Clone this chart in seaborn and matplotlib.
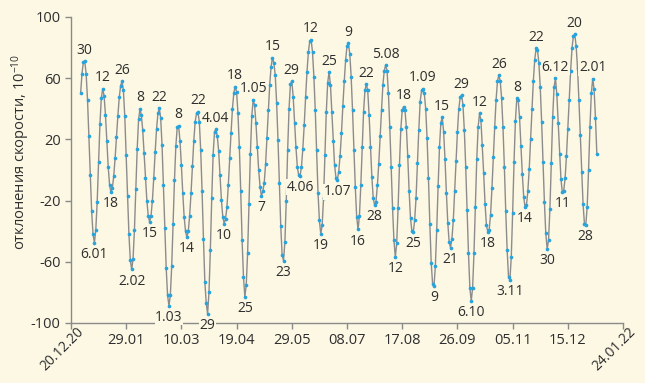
import pandas as pd
import seaborn as sns
import matplotlib.pyplot as plt
from matplotlib.transforms import ScaledTranslation

# daily speed deviations, 10^-10, 27.12.2020 .. 05.01.2022
dec20 = [50, 63, 70.5, 71, 63]
jan21 = [46, 22, -3, -27, -42, -47.5, -39, -21, 5, 30, 47, 53, 48.5, 36, 19, 2,
         -10, -14.6, -11.8, -4, 7.8, 21.7, 35.6, 47.4, 55.2, 58, 52, 35, 10, -17, -42]
feb21 = [-59, -65, -58, -39, -12.5, 14, 33, 40, 36, 26, 11, -5, -20, -30, -34, -30,
         -20, -5, 11.5, 26.5, 37, 40.5, 34, 16, -10, -38, -64, -82]
mar21 = [-88.7, -82, -63, -35, -6.5, 15.7, 28, 29, 19, 3, -15, -30.5, -40, -44, -40,
         -30, -15, 2.6, 19, 31.6, 37, 38, 31.5, 13, -14, -45, -73, -87, -94, -80, -52]
apr21 = [-18.5, 10, 25, 26.6, 22, 12.6, -3.5, -19.6, -30.5, -35, -32, -24.4, -10, 7.6,
         24.4, 40, 50.5, 54.5, 51, 37, 15, -14, -46, -70, -83, -75, -54, -22, 10.5, 35]
may21 = [45.8, 42.5, 31, 15, 0, -11, -17, -14, -8.7, 3.7, 21, 39, 55.6, 67.5, 73.4, 70,
         62, 44, 19.6, -8.7, -36.6, -55.6, -59.3, -47, -20, 13, 40, 56, 58, 48, 31]
jun21 = [15, 2, -3.5, -3.7, 2, 14, 29.4, 47.5, 64, 77, 84, 85.2, 77, 61, 39, 13, -15,
         -33, -42, -36, -18.5, 10, 38, 57, 64, 55.6, 38, 19, 3, -5]
jul21 = [-6.5, -1, 9.4, 24.4, 42, 58, 72, 81, 82.8, 76, 61, 39, 13, -11, -30.5, -38.8,
         -30, -10, 15, 38, 52, 56.2, 52, 36, 15, -4.4, -18.5, -23, -20.7, -10, 4]
aug21 = [22, 39, 55.6, 65, 68.6, 65, 50, 28, 2, -25, -46, -57, -48, -25, 3, 27, 39,
         41.4, 39, 28, 9, -14, -31.6, -40, -40.7, -33, -18.5, 4.4, 26, 44.7, 52]
sep21 = [53, 50, 40, 21, -5.4, -35, -60.6, -74.5, -75.8, -63, -39, -10.5, 15, 31, 34.4,
         25, 7, -15, -34.4, -47, -50.8, -45, -33, -14, 6, 25, 40, 47.5, 49, 42.5]
oct21 = [26, 2, -26, -54.4, -77, -85.6, -77, -54, -24, 7, 28, 37, 32.7, 16, -2, -22,
         -36, -40.7, -39, -29.4, -12, 8.7, 28, 45.8, 58, 62, 58, 47, 28, 2, -27]
nov21 = [-52, -69.7, -72, -57, -28, 5, 32, 46.8, 45.8, 34.4, 15.7, -2.6, -17.4, -24.4,
         -23, -14, 0.4, 20, 40, 58.4, 72, 79.5, 78.4, 70, 54, 31.6, 5.4, -20.7, -41.4, -51.6]
dec21 = [-46, -25.5, 4.4, 34.4, 54, 60, 49.5, 30.5, 10.5, -6, -14.6, -13.5, -5.4, 9.2,
         27, 46, 64.7, 79.5, 87.6, 88.7, 81, 66.4, 46, 23, -1.5, -22, -35, -36, -24, 0, 28]
jan22 = [50, 59.5, 53, 34, 10.5]

peak_dates = ['2020-12-30', '2021-01-12', '2021-01-26', '2021-02-08', '2021-02-22',
              '2021-03-08', '2021-03-22', '2021-04-04', '2021-04-18', '2021-05-01',
              '2021-05-15', '2021-05-29', '2021-06-12', '2021-06-25', '2021-07-09',
              '2021-07-22', '2021-08-05', '2021-08-18', '2021-09-01', '2021-09-15',
              '2021-09-29', '2021-10-12', '2021-10-26', '2021-11-08', '2021-11-22',
              '2021-12-06', '2021-12-20', '2022-01-02']
peak_labels = ['30', '12', '26', '8', '22', '8', '22', '4.04', '18', '1.05', '15', '29',
               '12', '25', '9', '22', '5.08', '18', '1.09', '15', '29', '12', '26', '8',
               '22', '6.12', '20', '2.01']
trough_dates = ['2021-01-06', '2021-01-18', '2021-02-02', '2021-02-15', '2021-03-01',
                '2021-03-14', '2021-03-29', '2021-04-10', '2021-04-25', '2021-05-07',
                '2021-05-23', '2021-06-04', '2021-06-19', '2021-07-01', '2021-07-16',
                '2021-07-28', '2021-08-12', '2021-08-25', '2021-09-09', '2021-09-21',
                '2021-10-06', '2021-10-18', '2021-11-03', '2021-11-14', '2021-11-30',
                '2021-12-11', '2021-12-28']
trough_labels = ['6.01', '18', '2.02', '15', '1.03', '14', '29', '10', '25', '7', '23',
                 '4.06', '19', '1.07', '16', '28', '12', '25', '9', '21', '6.10', '18',
                 '3.11', '14', '30', '11', '28']

x_tick_labels = ['20.12.20', '29.01', '10.03', '19.04', '29.05', '08.07', '17.08',
                 '26.09', '05.11', '15.12', '24.01.22']
y_ticks = [-100, -60, -20, 20, 60, 100]
y_tick_labels = ['-100', '-60', '-20', '20', '60', '100']

values = (dec20 + jan21 + feb21 + mar21 + apr21 + may21 + jun21 + jul21 + aug21
          + sep21 + oct21 + nov21 + dec21 + jan22)
df = pd.DataFrame({'date': pd.date_range('2020-12-27', periods=len(values), freq='D'),
                   'dev': values})
series = df.set_index('date')['dev']

BG = '#fcf8e4'
AX_COL = '#8a8a8a'
TXT = '#2e2e2e'

sns.set_style('ticks')
plt.rcParams['font.family'] = ['Open Sans', 'DejaVu Sans']
plt.rcParams['mathtext.fontset'] = 'custom'
plt.rcParams['mathtext.rm'] = 'Open Sans'
plt.rcParams['mathtext.it'] = 'Open Sans:italic'

fig = plt.figure(figsize=(6.45, 3.83), dpi=100, facecolor=BG)
ax = fig.add_axes([0.110, 0.1567, 0.856, 0.799])
ax.set_facecolor(BG)

sns.lineplot(data=df, x='date', y='dev', color='#8c8c8c', linewidth=1.0, ax=ax)
sns.scatterplot(data=df, x='date', y='dev', color='#29a3dc', s=7, linewidth=0,
                ax=ax, zorder=3)

box = dict(facecolor=BG, edgecolor='none', pad=0.4)
for d, lab in zip(peak_dates, peak_labels):
    ax.annotate(lab, (pd.Timestamp(d), series[d]), xytext=(0, 2.5),
                textcoords='offset points', ha='center', va='bottom',
                fontsize=10, color=TXT, bbox=box, zorder=4)
for d, lab in zip(trough_dates, trough_labels):
    ax.annotate(lab, (pd.Timestamp(d), series[d]), xytext=(0, -3),
                textcoords='offset points', ha='center', va='top',
                fontsize=10, color=TXT, bbox=box, zorder=4)

tick_dates = pd.date_range('2020-12-20', periods=len(x_tick_labels), freq='40D')
ax.set_xlim(tick_dates[0], tick_dates[-1])
ax.set_ylim(-100, 100)
ax.set_xticks(tick_dates)
ax.set_xticklabels(x_tick_labels)
ax.set_yticks(y_ticks)
ax.set_yticklabels(y_tick_labels)

ax.set_xlabel('')
ax.set_ylabel('отклонения скорости, 10$^{-10}$', fontsize=10.5, color=TXT)
ax.yaxis.set_label_coords(-0.071, 0.56)

sns.despine(ax=ax)
for side in ('left', 'bottom'):
    ax.spines[side].set_color(AX_COL)
    ax.spines[side].set_linewidth(1)
ax.tick_params(colors=AX_COL, labelcolor=TXT, labelsize=10.5, length=4, width=1)

# first and last date labels are tilted
shift = ScaledTranslation(5 / 100, 9 / 100, fig.dpi_scale_trans)
for lab in (ax.get_xticklabels()[0], ax.get_xticklabels()[-1]):
    lab.set_rotation(45)
    lab.set_ha('right')
    lab.set_va('top')
    lab.set_rotation_mode('anchor')
    lab.set_fontsize(10)
    lab.set_transform(lab.get_transform() + shift)

fig.savefig('out.png', dpi=100, facecolor=BG)
